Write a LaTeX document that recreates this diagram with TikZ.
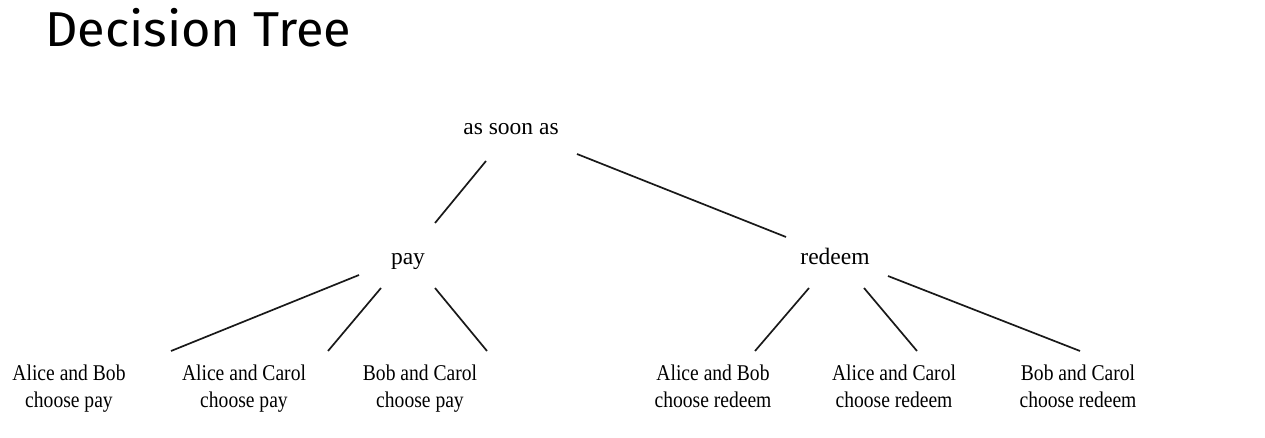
\documentclass[tikz,border=0pt]{standalone}
\usepackage{fontspec}
\setmainfont{Liberation Serif}
\newfontfamily\titlefont[FakeStretch=1.03]{Fira Sans}
\newfontfamily\leaffont[FakeStretch=0.87]{Liberation Serif}
\usetikzlibrary{calc}
\begin{document}
\begin{tikzpicture}[x=1pt,y=-1pt,
  title/.style={anchor=base west,inner sep=0pt,font=\titlefont\fontsize{49}{55}\selectfont},
  inner/.style={anchor=base,inner sep=0pt,font=\fontsize{23.5}{28}\selectfont},
  leaf/.style={anchor=base,inner sep=0pt,align=center,font=\leaffont\fontsize{22.5}{27}\selectfont},
  edge/.style={line width=1.7pt,draw=black!90}]
\useasboundingbox (0,0) rectangle (1265,438);
\node[title] (t) at (45,47) {Decision Tree};
\node[inner] (root) at (511,135) {as soon as};
\node[inner] (pay) at (408,265) {pay};
\node[inner] (red) at (835,265) {redeem};
% leaf nodes: base point is the baseline of the second line
\node[leaf] (pab) at (69,407) {Alice and Bob\\choose pay};
\node[leaf] (pac) at (244,407) {Alice and Carol\\choose pay};
\node[leaf] (pbc) at (420,407) {Bob and Carol\\choose pay};
\node[leaf] (rab) at (713,407) {Alice and Bob\\choose redeem};
\node[leaf] (rac) at (894,407) {Alice and Carol\\choose redeem};
\node[leaf] (rbc) at (1078,407) {Bob and Carol\\choose redeem};
% connectors (offsets relative to the named nodes' base points)
\draw[edge] ($(root.base)+(-25,26)$) -- ($(pay.base)+(27,-42)$);
\draw[edge] ($(root.base)+(66,19)$) -- ($(red.base)+(-49,-28)$);
\draw[edge] ($(pay.base)+(-49,10)$) -- ($(pab.base)+(102,-56)$);
\draw[edge] ($(pay.base)+(-27,23)$) -- ($(pac.base)+(84,-56)$);
\draw[edge] ($(pay.base)+(27,23)$) -- ($(pbc.base)+(67,-56)$);
\draw[edge] ($(red.base)+(-26,23)$) -- ($(rab.base)+(42,-56)$);
\draw[edge] ($(red.base)+(29,23)$) -- ($(rac.base)+(23,-56)$);
\draw[edge] ($(red.base)+(53,11)$) -- ($(rbc.base)+(2,-56)$);
\end{tikzpicture}
\end{document}
